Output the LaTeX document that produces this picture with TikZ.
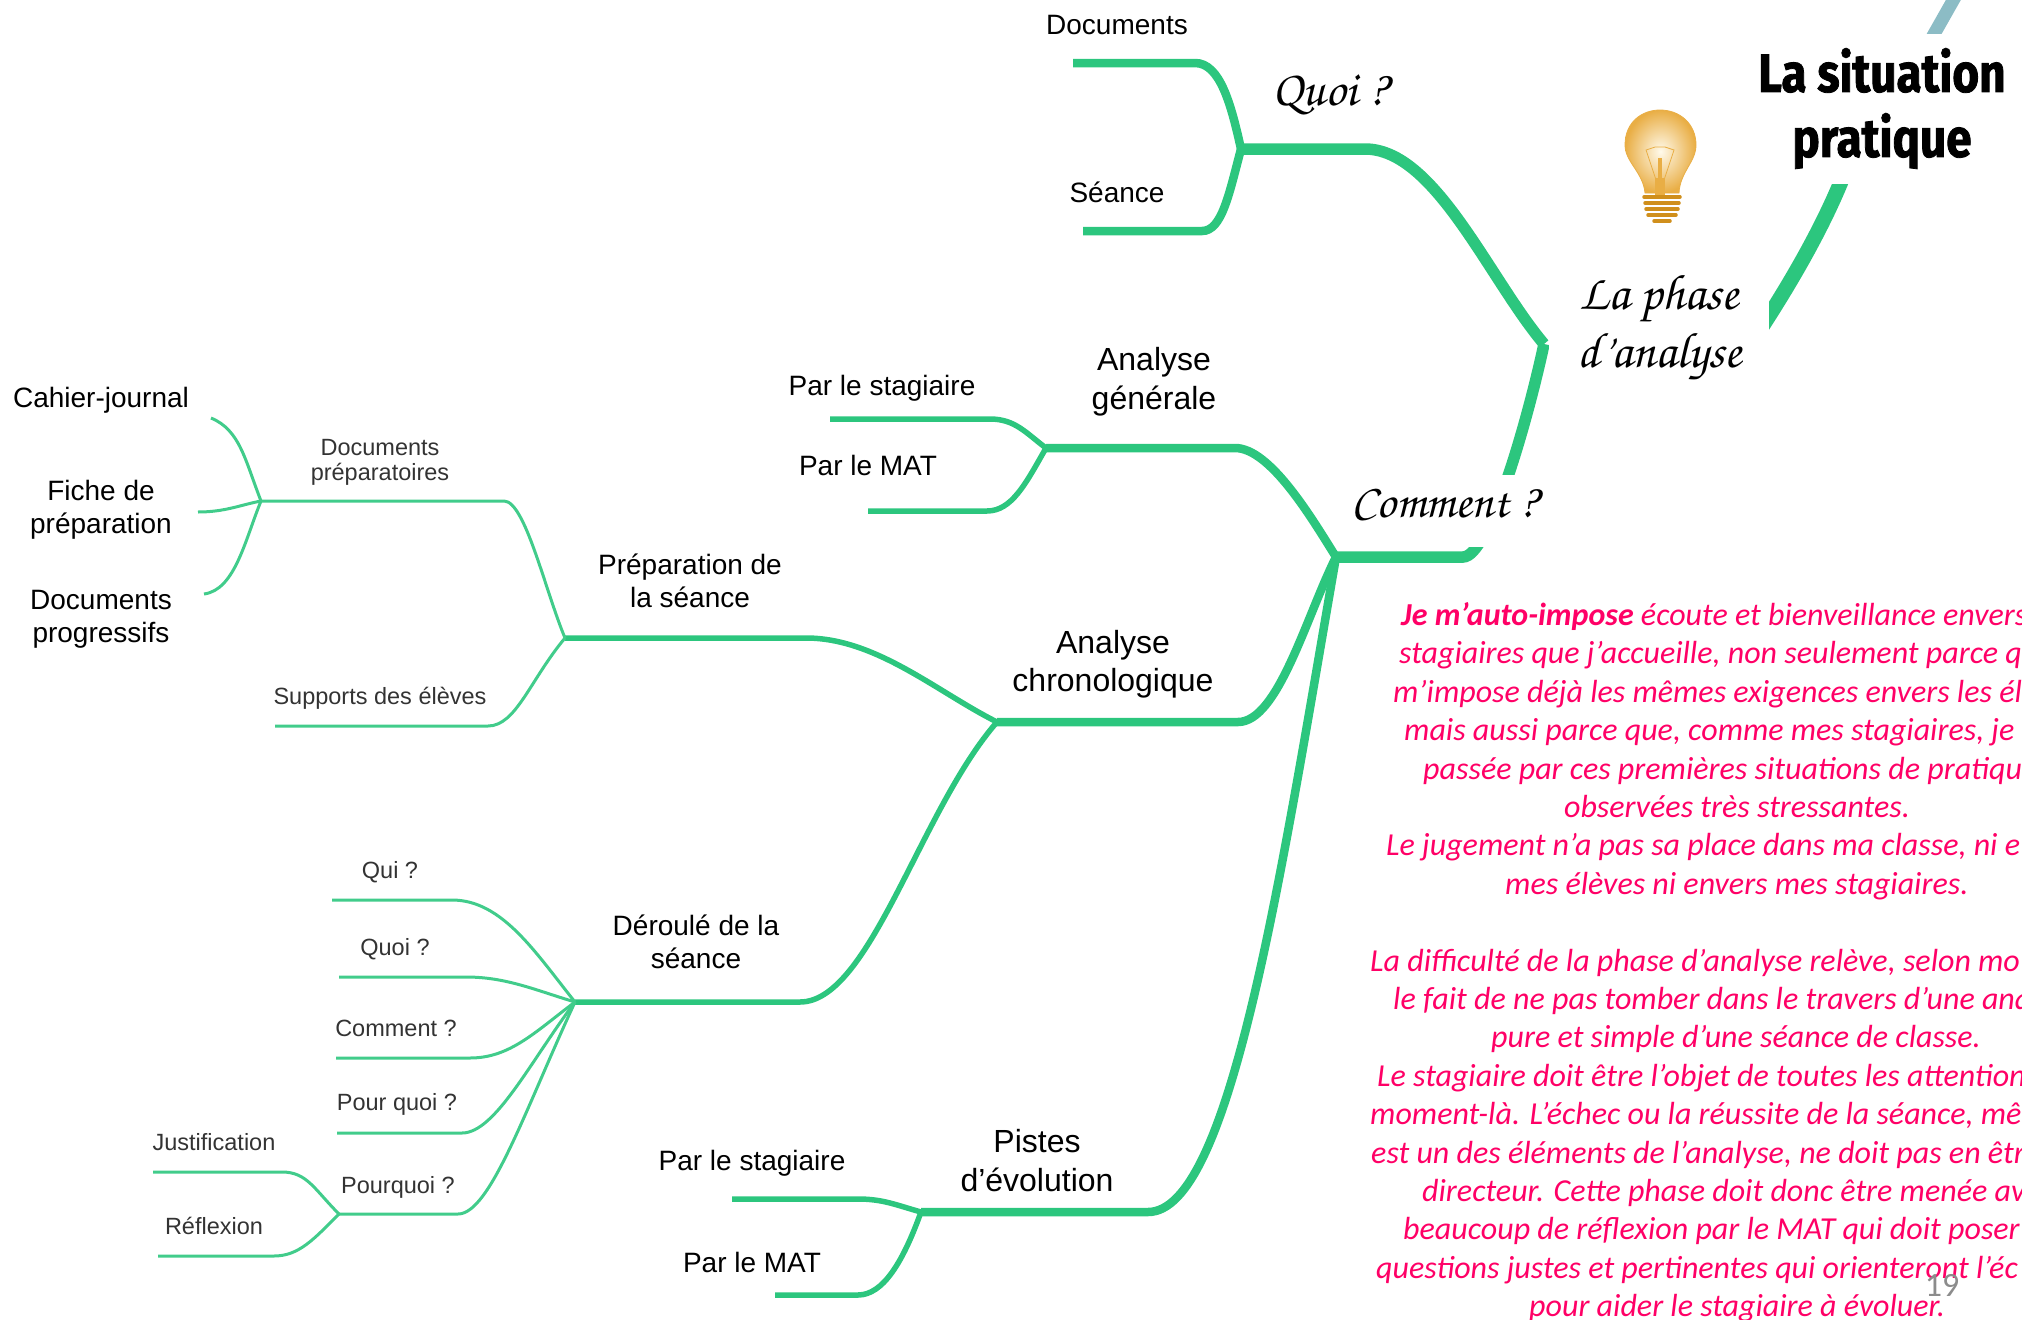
\documentclass[tikz,border=0pt]{standalone}
\usepackage[T1,TU]{fontenc}
\usepackage{fontspec}
\setmainfont{Liberation Sans}
\newfontfamily\bodyfont{Carlito}
\newfontfamily\titlefont[FakeStretch=0.85,BoldFeatures={FakeBold=1.5}]{Fira Sans}
\newcommand{\handfont}{\fontencoding{T1}\fontfamily{pzc}\fontseries{mb}\fontshape{it}\selectfont}
\definecolor{mapgreen}{HTML}{2CC67E}
\definecolor{notepink}{HTML}{FF0066}
\definecolor{tealbar}{HTML}{8CBCC5}
\definecolor{labelgrey}{HTML}{333333}
\definecolor{bulbgold}{HTML}{E9AE45}
\definecolor{bulbpale}{HTML}{FFFAEB}
\definecolor{screwdark}{HTML}{D08F1C}
\tikzset{
    biglabel/.style={inner sep=0pt,align=center,font=\fontsize{32}{38.5}\selectfont},
    midlabel/.style={inner sep=0pt,align=center,font=\fontsize{28}{33}\selectfont},
    smalllabel/.style={inner sep=0pt,align=center,text=labelgrey,font=\fontsize{23.5}{24.5}\selectfont},
    handlabel/.style={inner sep=0pt,align=center,fill=white,font=\fontsize{50}{58}\handfont},
}
\begin{document}
\begin{tikzpicture}[x=1pt,y=-1pt]
\useasboundingbox (0,0) rectangle (2022,1320);

% junctions
\coordinate (hubQuoi) at (1241,149);
\coordinate (hubPhase) at (1544,344);
\coordinate (hubComment) at (1336,557);
\coordinate (hubGen) at (1046,448);
\coordinate (hubChrono) at (997,722);
\coordinate (hubPrep) at (565,638);
\coordinate (hubDocs) at (261,501);
\coordinate (hubDeroule) at (575,1002);
\coordinate (hubPourquoi) at (339,1214);
\coordinate (hubPistes) at (921,1212);

% free ends and bends
\coordinate (endDoc) at (1073,63);
\coordinate (bendDoc) at (1195,63);
\coordinate (endSeance) at (1083,231);
\coordinate (bendSeance) at (1202,231);
\coordinate (bendQuoi) at (1365,149);
\coordinate (bendComment) at (1463,557);
\coordinate (sitTop) at (1856,140);
\coordinate (sitEnd) at (1750,345);
\coordinate (barTop) at (1959,-10);
\coordinate (barEnd) at (1925,50);
\coordinate (endGenA) at (830,419);
\coordinate (bendGenA) at (990,419);
\coordinate (endGenB) at (868,511);
\coordinate (bendGenB) at (987,511);
\coordinate (bendGen) at (1235,448);
\coordinate (bendChrono) at (1238,722);
\coordinate (bendPrep) at (806,638);
\coordinate (bendDeroule) at (800,1002);
\coordinate (bendPistes) at (1148,1212);
\coordinate (endPistesA) at (732,1199);
\coordinate (bendPistesA) at (858,1199);
\coordinate (endPistesB) at (775,1295);
\coordinate (bendPistesB) at (858,1295);
\coordinate (bendDocs) at (504,501);
\coordinate (endSupports) at (275,726);
\coordinate (bendSupports) at (488,726);
\coordinate (endCahier) at (211,418);
\coordinate (endFiche) at (198,512);
\coordinate (endProg) at (204,594);
\coordinate (endQui) at (332,900);
\coordinate (bendQui) at (452,900);
\coordinate (endQuoi) at (339,977);
\coordinate (bendQuoiB) at (466,977);
\coordinate (endHow) at (336,1058);
\coordinate (bendHow) at (470,1058);
\coordinate (endPour) at (337,1133);
\coordinate (bendPour) at (462,1133);
\coordinate (bendWhy) at (458,1214);
\coordinate (endJust) at (153,1172);
\coordinate (bendJust) at (282,1172);
\coordinate (endRefl) at (158,1256);
\coordinate (bendRefl) at (274,1256);

\draw [tealbar,line width=13pt] (barEnd) -- (barTop);
\draw [mapgreen,line width=15pt] (sitTop) .. controls +(-18,60) and +(50,-75) .. (sitEnd);

\begin{scope}[every path/.style={draw=mapgreen,line width=11.5pt}]
    \path (hubQuoi) -- (bendQuoi) .. controls +(70,0) and +(-55,-65) .. (hubPhase);
    \path (hubComment) -- (bendComment) .. controls +(27,0) and +(-14,66) .. (hubPhase);
\end{scope}

\begin{scope}[every path/.style={draw=mapgreen,line width=8.5pt}]
    \path (endDoc) -- (bendDoc) .. controls +(25,0) and +(-10,-45) .. (hubQuoi);
    \path (endSeance) -- (bendSeance) .. controls +(20,0) and +(-12,45) .. (hubQuoi);
    \path (hubGen) -- (bendGen) .. controls +(35,0) and +(-25,-40) .. (hubComment);
    \path (hubChrono) -- (bendChrono) .. controls +(40,0) and +(-30,60) .. (hubComment);
    \path (hubPistes) -- (bendPistes) .. controls +(82,0) and +(-56,323) .. (hubComment);
\end{scope}

\begin{scope}[every path/.style={draw=mapgreen,line width=5.5pt}]
    \path (endGenA) -- (bendGenA) .. controls +(25,0) and +(-20,-15) .. (hubGen);
    \path (endGenB) -- (bendGenB) .. controls +(25,0) and +(-20,35) .. (hubGen);
    \path (hubPrep) -- (bendPrep) .. controls +(70,0) and +(-60,-30) .. (hubChrono);
    \path (hubDeroule) -- (bendDeroule) .. controls +(70,0) and +(-77,88) .. (hubChrono);
    \path (endPistesA) -- (bendPistesA) .. controls +(25,0) and +(-25,-7) .. (hubPistes);
    \path (endPistesB) -- (bendPistesB) .. controls +(25,0) and +(-18,50) .. (hubPistes);
\end{scope}

\begin{scope}[every path/.style={draw=mapgreen!90!white,line width=3pt}]
    \path (hubDocs) -- (bendDocs) .. controls +(21,0) and +(-20,-48) .. (hubPrep);
    \path (endSupports) -- (bendSupports) .. controls +(28,0) and +(-35,42) .. (hubPrep);
    \path (endCahier) .. controls +(29,12) and +(-16,-41) .. (hubDocs);
    \path (endFiche) .. controls +(27,0) and +(-21,4) .. (hubDocs);
    \path (endProg) .. controls +(31,-4) and +(-16,39) .. (hubDocs);
    \path (endQui) -- (bendQui) .. controls +(50,0) and +(-40,-50) .. (hubDeroule);
    \path (endQuoi) -- (bendQuoiB) .. controls +(40,0) and +(-40,-12) .. (hubDeroule);
    \path (endHow) -- (bendHow) .. controls +(40,0) and +(-40,30) .. (hubDeroule);
    \path (endPour) -- (bendPour) .. controls +(33,0) and +(-45,60) .. (hubDeroule);
    \path (hubPourquoi) -- (bendWhy) .. controls +(32,0) and +(-50,108) .. (hubDeroule);
    \path (endJust) -- (bendJust) .. controls +(25,0) and +(-25,-25) .. (hubPourquoi);
    \path (endRefl) -- (bendRefl) .. controls +(25,0) and +(-25,25) .. (hubPourquoi);
\end{scope}

% labels of the map
\node [midlabel] (documents) at (1117,25) {Documents};
\node [midlabel] (seance) at (1117,192) {Séance};
\node [biglabel] (general) at (1154,381.5) {Analyse\\générale};
\node [midlabel] (genA) at (882,388) {Par le stagiaire};
\node [midlabel] (genB) at (868,465) {Par le MAT};
\node [biglabel] (chrono) at (1113,664) {Analyse\\chronologique};
\node [midlabel] (prep) at (690,581) {Préparation de\\la séance};
\node [midlabel] (deroule) at (696,942) {Déroulé de la\\séance};
\node [biglabel] (pistes) at (1037,1160.5) {Pistes\\d’évolution};
\node [midlabel] (pistesA) at (752,1163) {Par le stagiaire};
\node [midlabel] (pistesB) at (752,1262) {Par le MAT};
\node [midlabel] (cahier) at (101,400.5) {Cahier-journal};
\node [midlabel] (fiche) at (101,509.5) {Fiche de\\préparation};
\node [midlabel] (progressifs) at (101,619.5) {Documents\\progressifs};
\node [smalllabel] (docsPrep) at (380,462.5) {Documents\\préparatoires};
\node [smalllabel] (supports) at (380,698.5) {Supports des élèves};
\node [smalllabel] (qui) at (390,872.5) {Qui ?};
\node [smalllabel] (quoiB) at (395,949) {Quoi ?};
\node [smalllabel] (how) at (396,1028) {Comment ?};
\node [smalllabel] (pourQuoi) at (397,1104) {Pour quoi ?};
\node [smalllabel] (pourquoi) at (398,1187) {Pourquoi ?};
\node [smalllabel] (just) at (214,1142) {Justification};
\node [smalllabel] (refl) at (214,1226) {Réflexion};

\node [handlabel,fill=none] (quoi) at (1330,95) {Quoi ?};
\node [handlabel,minimum width=220pt,minimum height=180pt] (phase) at (1659,328) {La phase\\d'analyse};
\node [handlabel,minimum width=200pt,minimum height=72pt,font=\fontsize{48}{58}\handfont] (comment) at (1445,511) {\raisebox{16pt}{Comment ?}};
\node [inner sep=0pt,align=center,fill=white,minimum width=280pt,minimum height=150pt,
    font=\fontsize{54}{65}\titlefont\bfseries] (situation) at (1882,108.5) {La situation\\pratique};

% light bulb
\shade [inner color=bulbpale,outer color=bulbgold,draw=bulbgold,line width=0.8pt]
    (1645,193) .. controls (1643,172) and (1625,162) .. (1625,145)
    .. controls (1625,122) and (1642,110) .. (1660,110)
    .. controls (1680,110) and (1696,124) .. (1696,145)
    .. controls (1696,162) and (1680,172) .. (1679,193) -- cycle;
\draw [bulbgold,line width=0.8pt] (1656,180) -- (1646,150) -- (1655,147) -- (1665,147) -- (1674,150) -- (1664,180);
\draw [bulbgold,line width=4pt] (1660,158) -- (1660,178);
\draw [bulbgold,line width=10pt] (1660,178) -- (1660,196);
\foreach \yy/\hw in {197/18,203/17,209/16,215/14,221/8} {
    \draw [screwdark,line width=3.5pt,line cap=round] (1662-\hw,\yy) -- (1662+\hw,\yy);
}

% notes on the right
\foreach \n/\xx/\txt in {
    1/1401/{\textbf{Je m’auto-impose} écoute et bienveillance envers},
    2/1399/{stagiaires que j’accueille, non seulement parce q},
    3/1393/{m’impose déjà les mêmes exigences envers les él},
    4/1404/{mais aussi parce que, comme mes stagiaires, je},
    5/1423/{passée par ces premières situations de pratiqu},
    6/1564/{observées très stressantes.},
    7/1386/{Le jugement n’a pas sa place dans ma classe, ni e},
    8/1505/{mes élèves ni envers mes stagiaires.},
    10/1370/{La difficulté de la phase d’analyse relève, selon mo},
    11/1393/{le fait de ne pas tomber dans le travers d’une ana},
    12/1491/{pure et simple d’une séance de classe.},
    13/1377/{Le stagiaire doit être l’objet de toutes les attention},
    14/1370/{moment-là. L’échec ou la réussite de la séance, mê},
    15/1371/{est un des éléments de l’analyse, ne doit pas en êtr},
    16/1422/{directeur. Cette phase doit donc être menée av},
    17/1403/{beaucoup de réflexion par le MAT qui doit poser},
    18/1376/{questions justes et pertinentes qui orienteront l’éc},
    19/1529/{pour aider le stagiaire à évoluer.}} {
    \node [anchor=base west,inner sep=0pt,text=notepink,font=\fontsize{32}{38}\bodyfont\itshape]
        (line\n) at (\xx,{625.5+38.4*(\n-1)}) {\txt};
}
\node [inner sep=0pt,text=black!45,font=\fontsize{34}{40}\bodyfont] (pagenum) at (1942,1285) {19};
\end{tikzpicture}
\end{document}
